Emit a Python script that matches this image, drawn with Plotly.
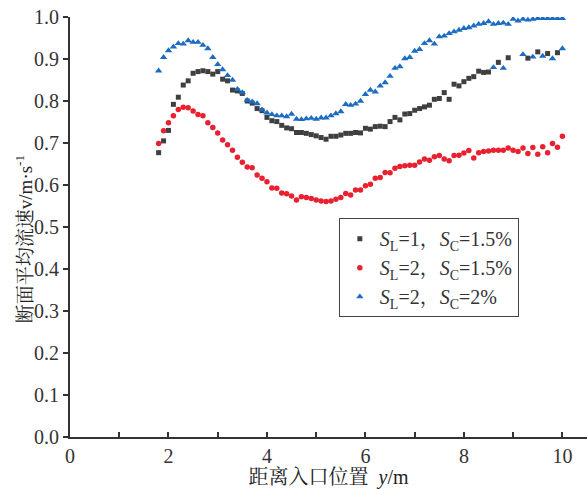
import numpy as np
import plotly.graph_objects as go

# positions along channel (m)
x_all = [round(1.8 + 0.1 * i, 1) for i in range(83)]

# S_L=2, S_C=2% (blue triangles) – velocity
v_blue = [0.872, 0.904, 0.920, 0.929, 0.937, 0.936, 0.944, 0.940, 0.940, 0.933,
          0.925, 0.904, 0.887, 0.875, 0.861, 0.850, 0.828, 0.820, 0.802, 0.798,
          0.794, 0.779, 0.772, 0.768, 0.765, 0.765, 0.763, 0.769, 0.757, 0.756,
          0.758, 0.759, 0.757, 0.760, 0.760, 0.765, 0.770, 0.775, 0.792, 0.790,
          0.793, 0.800, 0.816, 0.826, 0.822, 0.836, 0.844, 0.859, 0.878, 0.882,
          0.901, 0.904, 0.919, 0.923, 0.937, 0.944, 0.936, 0.953, 0.955, 0.961,
          0.965, 0.969, 0.973, 0.975, 0.979, 0.983, 0.985, 0.989, 0.983, 0.985,
          0.986, 0.983, 0.995, 0.991, 0.995, 0.993, 0.995, 0.997, 0.997, 0.997,
          0.997, 0.997, 0.997]

# S_L=1, S_C=1.5% (dark squares)
x_black = [round(1.8 + 0.1 * i, 1) for i in range(68)] + [8.7, 8.9, 9.3, 9.5, 9.7, 9.9]
v_black = [0.677, 0.705, 0.730, 0.792, 0.809, 0.838, 0.848, 0.866, 0.870, 0.872,
           0.870, 0.864, 0.870, 0.852, 0.848, 0.826, 0.824, 0.818, 0.800, 0.795,
           0.782, 0.777, 0.761, 0.753, 0.751, 0.742, 0.736, 0.734, 0.725, 0.725,
           0.723, 0.720, 0.717, 0.713, 0.709, 0.716, 0.716, 0.719, 0.723, 0.723,
           0.725, 0.724, 0.735, 0.733, 0.739, 0.740, 0.739, 0.751, 0.761, 0.755,
           0.769, 0.770, 0.778, 0.782, 0.786, 0.790, 0.804, 0.806, 0.820, 0.804,
           0.840, 0.836, 0.846, 0.854, 0.858, 0.871, 0.868, 0.869,
           0.892, 0.903, 0.902, 0.917, 0.913, 0.915]

# points of the S_L=1 curve that appear as blue triangles in the source
x_blue_extra = [8.6, 8.8, 9.2, 9.4, 9.6, 9.8, 10.0]
v_blue_extra = [0.880, 0.878, 0.911, 0.905, 0.907, 0.901, 0.925]

# S_L=2, S_C=1.5% (red circles)
v_red = [0.699, 0.729, 0.748, 0.765, 0.780, 0.785, 0.784, 0.776, 0.768, 0.765,
         0.748, 0.737, 0.724, 0.707, 0.696, 0.683, 0.666, 0.654, 0.643, 0.641,
         0.624, 0.616, 0.608, 0.593, 0.592, 0.581, 0.579, 0.574, 0.564, 0.572,
         0.570, 0.568, 0.564, 0.562, 0.561, 0.562, 0.566, 0.570, 0.580, 0.576,
         0.588, 0.588, 0.598, 0.602, 0.616, 0.618, 0.630, 0.629, 0.640, 0.644,
         0.646, 0.647, 0.647, 0.655, 0.662, 0.659, 0.667, 0.670, 0.662, 0.658,
         0.670, 0.671, 0.676, 0.682, 0.664, 0.677, 0.680, 0.681, 0.683, 0.683,
         0.683, 0.688, 0.683, 0.680, 0.688, 0.675, 0.689, 0.673, 0.691, 0.677,
         0.699, 0.690, 0.716]

c_black = "#3f3f3f"
c_red = "#e8202f"
c_blue = "#1b6cc2"

serif = "Liberation Serif, Times New Roman, serif"
cjk = "Liberation Serif, Noto Serif CJK SC, Noto Sans CJK SC, serif"

fig = go.Figure()
fig.add_trace(go.Scatter(x=x_black, y=v_black, mode="markers",
                         name="<i>S</i><sub>L</sub>=1，<i>S</i><sub>C</sub>=1.5%",
                         marker=dict(symbol="square", size=5, color=c_black)))
fig.add_trace(go.Scatter(x=x_all, y=v_red, mode="markers",
                         name="<i>S</i><sub>L</sub>=2，<i>S</i><sub>C</sub>=1.5%",
                         marker=dict(symbol="circle", size=5.5, color=c_red)))
fig.add_trace(go.Scatter(x=x_all, y=v_blue, mode="markers", legendgroup="b",
                         name="<i>S</i><sub>L</sub>=2，<i>S</i><sub>C</sub>=2%",
                         marker=dict(symbol="triangle-up", size=6.5, color=c_blue)))
fig.add_trace(go.Scatter(x=x_blue_extra, y=v_blue_extra, mode="markers", legendgroup="b",
                         showlegend=False,
                         marker=dict(symbol="triangle-up", size=6.5, color=c_blue)))

axis_font = dict(family=serif, size=20, color="#333")
fig.update_layout(
    width=587, height=489,
    margin=dict(l=70, r=0, t=17, b=52),
    paper_bgcolor="white", plot_bgcolor="white",
    showlegend=True,
    legend=dict(x=0.52, y=0.521, xanchor="left", yanchor="top",
                bordercolor="#444", borderwidth=1, bgcolor="white",
                font=dict(family=cjk, size=20, color="#333"),
                tracegroupgap=0, itemwidth=30),
    xaxis=dict(range=[0, 10.5], tickvals=[0, 2, 4, 6, 8, 10],
               ticks="inside", ticklen=5, tickwidth=1.5, tickcolor="#333",
               minor=dict(tickvals=[1, 3, 5, 7, 9], ticks="inside", ticklen=5,
                          tickwidth=1.5, tickcolor="#333"),
               showline=True, linecolor="#333", linewidth=2, showgrid=False,
               zeroline=False, tickfont=axis_font,
               title=dict(text="距离入口位置&nbsp;&nbsp;<i>y</i>/m", standoff=4,
                          font=dict(family=cjk, size=20, color="#222"))),
    yaxis=dict(range=[0, 1.0], tickvals=[0, 0.1, 0.2, 0.3, 0.4, 0.5, 0.6, 0.7, 0.8, 0.9, 1.0],
               tickformat=".1f",
               ticks="outside", ticklen=5, tickwidth=1.5, tickcolor="#333",
               showline=True, linecolor="#333", linewidth=2, showgrid=False,
               zeroline=False, tickfont=axis_font),
    annotations=[dict(text="断面平均流速v/m·s<sup>-1</sup>", textangle=-90,
                      xref="paper", yref="paper", x=(24 - 70) / 517, y=0.471,
                      xanchor="center", yanchor="middle", showarrow=False,
                      font=dict(family=cjk, size=19, color="#222"))],
)

fig.write_html("out.html")
